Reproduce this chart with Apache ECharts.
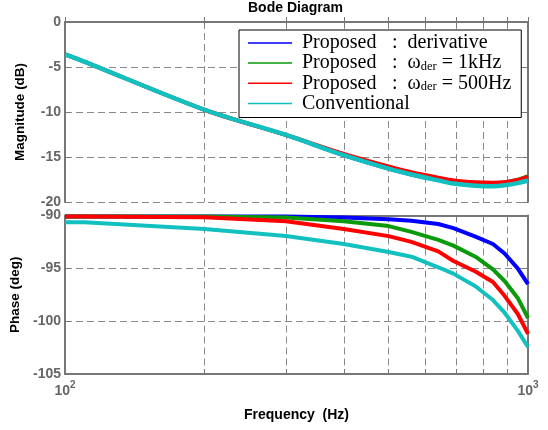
<!DOCTYPE html>
<html><head><meta charset="utf-8">
<script src="https://cdn.jsdelivr.net/npm/echarts@6/dist/echarts.min.js"></script>
<style>html,body{margin:0;padding:0;background:#fff}#c{width:548px;height:430px}</style>
</head><body><div id="c"></div>
<script>
// ---- data ----
const freqs = [100, 110, 200, 300, 400, 500, 560, 640, 690, 770, 840, 890, 950, 1000];
const seriesNames = ['derivative', '1kHz', '500Hz', 'Conventional'];
const seriesColors = ['#0000ff', '#0a9a0a', '#ff0000', '#12c0c0'];

const magDerivative    = [-3.6, -4.4, -9.75, -12.6, -14.85, -16.35, -17.0, -17.6, -17.9, -18.15, -18.2, -18.1, -17.9, -17.7];
const magOneKHz        = [-3.6, -4.4, -9.75, -12.55, -14.7, -16.1, -16.75, -17.35, -17.65, -17.85, -17.9, -17.8, -17.5, -17.1];
const magFiveHundred   = [-3.6, -4.4, -9.75, -12.55, -14.65, -16.05, -16.7, -17.3, -17.6, -17.8, -17.85, -17.8, -17.55, -17.2];
const magConventional  = [-3.6, -4.4, -9.75, -12.55, -14.8, -16.3, -16.95, -17.6, -17.95, -18.2, -18.25, -18.15, -17.9, -17.6];

const phaseDerivative   = [-90.1, -90.1, -90.1, -90.1, -90.2, -90.35, -90.5, -90.8, -91.2, -92.0, -92.7, -93.6, -95.0, -96.5];
const phaseOneKHz       = [-90.1, -90.1, -90.1, -90.2, -90.54, -91.0, -91.55, -92.3, -92.85, -93.9, -95.1, -96.2, -97.8, -99.7];
const phaseFiveHundred  = [-90.1, -90.1, -90.16, -90.54, -91.28, -91.95, -92.5, -93.4, -94.3, -95.3, -96.3, -97.6, -99.3, -101.2];
const phaseConventional = [-90.65, -90.65, -91.28, -91.95, -92.7, -93.45, -93.9, -94.9, -95.5, -96.7, -98.0, -99.2, -100.9, -102.45];

const freqGridValues = [100, 200, 300, 400, 500, 600, 700, 800, 900, 1000];
const freqLabelValues = [100, 1000];
const freqLabelText = {100: ['10', '2'], 1000: ['10', '3']};
const magRange = {min: -20, max: 0, interval: 5};
const phaseRange = {min: -105, max: -90, interval: 5};

// ---- chart ----
const chart = echarts.init(document.getElementById('c'), null, {renderer: 'canvas'});
const SANS = 'Liberation Sans';
const SERIF = 'Liberation Serif';
const gridLine = {show: true, lineStyle: {color: '#8a8a8a', type: [7, 4], width: 1}};
const tick = {show: true, inside: true, length: 5, lineStyle: {color: '#777', width: 1}};
const axisLine = {show: true, lineStyle: {color: '#777', width: 2}};
const tickLabel = {color: '#666', fontWeight: 'bold', fontSize: 14, fontFamily: SANS, margin: 4};

function xAx(gridIndex, position, withLabels, withSplit) {
  return {
    type: 'log', logBase: 10, min: 100, max: 1000, gridIndex, position,
    axisLine,
    axisTick: Object.assign({}, tick, {customValues: freqGridValues}),
    splitLine: withSplit ? gridLine : {show: false},
    minorTick: {show: false}, minorSplitLine: {show: false},
    axisLabel: withLabels ? {
      show: true, customValues: freqLabelValues, margin: 6,
      formatter: v => { const t = freqLabelText[Math.round(v)]; return t ? '{b|' + t[0] + '}{p|' + t[1] + '}' : ''; },
      rich: {
        b: {color: '#666', fontWeight: 'bold', fontSize: 14, fontFamily: SANS, lineHeight: 18, verticalAlign: 'bottom'},
        p: {color: '#666', fontWeight: 'bold', fontSize: 10, fontFamily: SANS, lineHeight: 10, verticalAlign: 'top'}
      }
    } : {show: false}
  };
}
function yAx(gridIndex, position, range, withLabels, name) {
  return Object.assign({
    type: 'value', gridIndex, position,
    axisLine, axisTick: tick,
    splitLine: withLabels ? gridLine : {show: false},
    axisLabel: withLabels ? tickLabel : {show: false},
    name: name || '', nameLocation: 'middle', nameGap: 38,
    nameTextStyle: {color: '#000', fontWeight: 'bold', fontSize: 13.5, fontFamily: SANS}
  }, range);
}

const xAxis = [xAx(0, 'bottom', false, true), xAx(0, 'top', false, false),
               xAx(1, 'bottom', true, true), xAx(1, 'top', false, false)];
xAxis[2].name = 'Frequency  (Hz)';
xAxis[2].nameLocation = 'middle';
xAxis[2].nameGap = 34;
xAxis[2].nameTextStyle = {color: '#000', fontWeight: 'bold', fontSize: 14, fontFamily: SANS};

const yAxis = [yAx(0, 'left', magRange, true, 'Magnitude (dB)'), yAx(0, 'right', magRange, false),
               yAx(1, 'left', phaseRange, true, 'Phase (deg)'), yAx(1, 'right', phaseRange, false)];

const mags = [magDerivative, magOneKHz, magFiveHundred, magConventional];
const phases = [phaseDerivative, phaseOneKHz, phaseFiveHundred, phaseConventional];
const magWidths = [3, 3.5, 4, 4.5];
const series = [];
seriesNames.forEach((n, i) => {
  series.push({
    name: n, type: 'line', xAxisIndex: 0, yAxisIndex: 0, showSymbol: false, symbol: 'none',
    smooth: 0.3, color: seriesColors[i],
    lineStyle: {width: magWidths[i], color: seriesColors[i]},
    data: freqs.map((f, k) => [f, mags[i][k]]), z: 2 + i
  });
});
seriesNames.forEach((n, i) => {
  series.push({
    name: n, type: 'line', xAxisIndex: 2, yAxisIndex: 2, showSymbol: false, symbol: 'none',
    color: seriesColors[i],
    lineStyle: {width: 4, color: seriesColors[i]},
    data: freqs.map((f, k) => [f, phases[i][k]]), z: 2 + i
  });
});

const legendText = {
  'derivative': '{n|Proposed}{t|:  derivative}',
  '1kHz': '{n|Proposed}{t|:  ω}{s|der}{t| = 1kHz}',
  '500Hz': '{n|Proposed}{t|:  ω}{s|der}{t| = 500Hz}',
  'Conventional': '{c|Conventional}'
};

chart.setOption({
  animation: false,
  backgroundColor: '#fff',
  title: {text: 'Bode Diagram', left: 248, top: 0, padding: 0,
    textStyle: {color: '#000', fontWeight: 'bold', fontSize: 14, fontFamily: SANS, lineHeight: 16}},
  grid: [
    {left: 65, right: 20, top: 22, height: 180, show: true, backgroundColor: '#fff', borderWidth: 0},
    {left: 65, right: 20, top: 215.5, height: 158.5, show: true, backgroundColor: '#fff', borderWidth: 0}
  ],
  xAxis, yAxis,
  legend: {
    data: seriesNames, orient: 'vertical', left: 239, top: 30,
    padding: [3, 10, 4, 9], itemGap: 0, itemWidth: 44, itemHeight: 20,
    backgroundColor: '#fff', borderColor: '#000', borderWidth: 1,
    icon: 'path://M0,9.2 L44,9.2 L44,10.8 L0,10.8 Z',
    formatter: n => legendText[n],
    textStyle: {
      color: '#000', fontFamily: SERIF, fontSize: 20,
      rich: {
        n: {fontFamily: SERIF, fontSize: 20, color: '#000', width: 90, lineHeight: 20.5, padding: [0, 0, 0, 5]},
        c: {fontFamily: SERIF, fontSize: 20, color: '#000', lineHeight: 20.5, padding: [0, 0, 0, 5]},
        t: {fontFamily: SERIF, fontSize: 20, color: '#000', lineHeight: 20.5},
        s: {fontFamily: SERIF, fontSize: 12.5, color: '#000', lineHeight: 12, verticalAlign: 'bottom'}
      }
    }
  },
  series
});
</script></body></html>
